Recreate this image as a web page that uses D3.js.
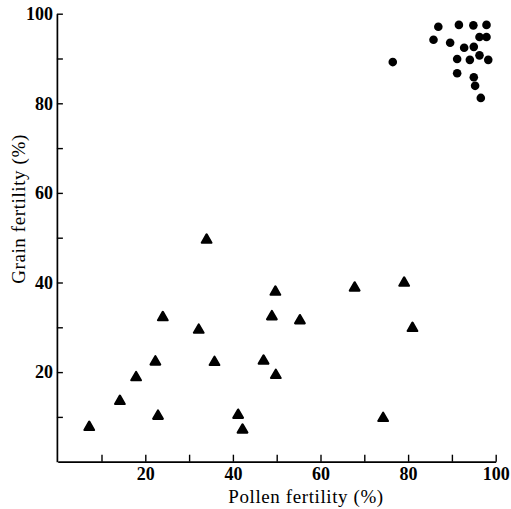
<!DOCTYPE html>
<html lang="en">
<head>
    <meta charset="utf-8" />
    <title>Pollen vs grain fertility</title>
    <script src="https://d3js.org/d3.v7.min.js"></script>
    <style>
        body { margin: 0; background: #fff; }
        text { font-family: "Liberation Serif", "Times New Roman", serif; fill: #000; }
    </style>
</head>
<body>
    <div id="chart"></div>
    <script>
        // pollen fertility (x) and grain fertility (y), both in %
        // triangles: the low-fertility group
        const triX = [7.2, 14.2, 17.9, 22.3, 22.9, 24.0, 32.2, 34.0, 35.8, 41.2,
                      42.2, 47.0, 48.9, 49.7, 49.8, 55.3, 67.8, 74.3, 79.1, 81.0];
        const triY = [7.7, 13.5, 18.8, 22.3, 10.2, 32.2, 29.4, 49.5, 22.2, 10.4,
                      7.1, 22.5, 32.4, 37.9, 19.3, 31.5, 38.8, 9.7, 39.9, 29.8];

        // dots: the fertile group in the top right corner
        const dotX = [86.9, 91.6, 94.9, 97.9, 96.3, 97.9, 85.8, 89.6, 92.8, 95.0,
                      91.2, 94.1, 96.3, 98.3, 76.5, 91.2, 95.0, 95.3, 96.6];
        const dotY = [97.1, 97.5, 97.4, 97.5, 94.8, 94.8, 94.2, 93.5, 92.4, 92.6,
                      89.9, 89.7, 90.7, 89.7, 89.2, 86.7, 85.8, 83.9, 81.2];

        const tickValues = [10, 20, 30, 40, 50, 60, 70, 80, 90, 100];
        const labelledTicks = [20, 40, 60, 80, 100];

        const W = 511, H = 509;
        const svg = d3.select("#chart").append("svg")
            .attr("width", W)
            .attr("height", H);

        svg.append("rect").attr("width", W).attr("height", H).attr("fill", "#fff");

        const x = d3.scaleLinear().domain([0, 100]).range([57.7, 495.7]);
        const y = d3.scaleLinear().domain([0, 100]).range([461.7, 13.7]);

        const fmt = d => labelledTicks.includes(d) ? d : "";

        // axes, ticks pointing inwards
        const gx = svg.append("g")
            .attr("transform", `translate(0,${y(0)})`)
            .call(d3.axisBottom(x).tickValues(tickValues).tickSize(-7)
                .tickSizeOuter(0).tickPadding(6).tickFormat(fmt));

        const gy = svg.append("g")
            .attr("transform", `translate(${x(0) - 0.8},0)`)
            .call(d3.axisLeft(y).tickValues(tickValues).tickSize(-6)
                .tickSizeOuter(0).tickPadding(4).tickFormat(fmt));

        [gx, gy].forEach(g => {
            g.select(".domain").attr("stroke", "#000").attr("stroke-width", 1.7);
            g.selectAll(".tick line").attr("stroke", "#000").attr("stroke-width", 1.4);
            g.selectAll(".tick text")
                .style("font-family", "'Liberation Serif', serif")
                .style("font-size", "18px")
                .style("font-weight", "bold")
                .attr("fill", "#000");
        });

        // titles
        svg.append("text")
            .attr("x", 306)
            .attr("y", 503)
            .attr("text-anchor", "middle")
            .style("font-size", "19px")
            .style("letter-spacing", "0.6px")
            .text("Pollen fertility (%)");

        svg.append("text")
            .attr("transform", "translate(25,209) rotate(-90)")
            .attr("text-anchor", "middle")
            .style("font-size", "19px")
            .style("letter-spacing", "0.6px")
            .text("Grain fertility (%)");

        // points
        const tri = d3.symbol().type(d3.symbolTriangle).size(40);

        svg.append("g").selectAll("path")
            .data(triX.map((v, i) => [v, triY[i]]))
            .join("path")
            .attr("d", tri)
            .attr("transform", d => `translate(${x(d[0])},${y(d[1])})`)
            .attr("fill", "#000")
            .attr("stroke", "#000")
            .attr("stroke-width", 2.2)
            .attr("stroke-linejoin", "round");

        svg.append("g").selectAll("circle")
            .data(dotX.map((v, i) => [v, dotY[i]]))
            .join("circle")
            .attr("cx", d => x(d[0]))
            .attr("cy", d => y(d[1]))
            .attr("r", 4.3)
            .attr("fill", "#000");
    </script>
</body>
</html>
